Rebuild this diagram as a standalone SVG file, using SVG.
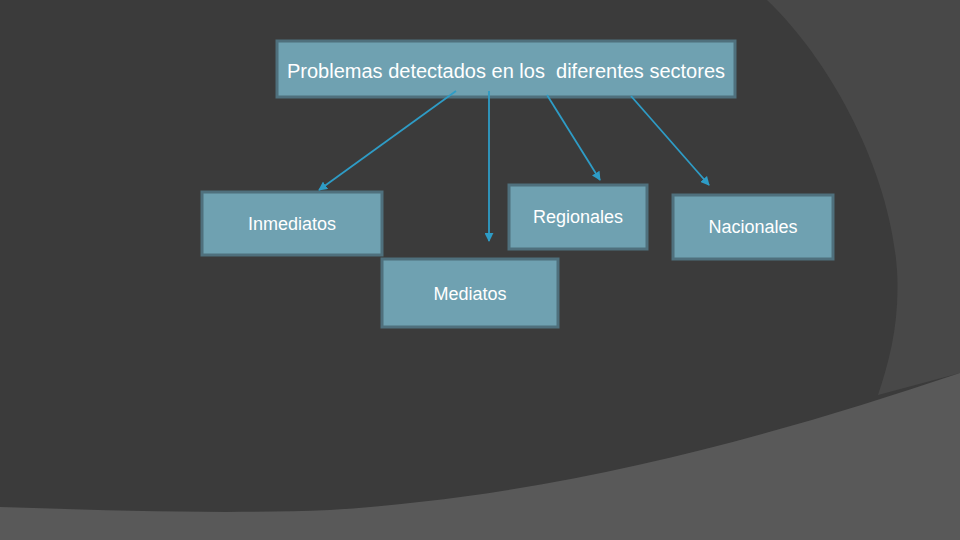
<svg xmlns="http://www.w3.org/2000/svg" width="960" height="540" viewBox="0 0 960 540">
<defs>
<style>
.box{fill:#6fa1b1;stroke:#4f707d;stroke-width:3}
.lbl{font-family:"Liberation Sans",Arial,sans-serif;font-size:18px;fill:#ffffff;text-anchor:middle;white-space:pre}
.title{font-size:20px}
.conn{stroke:#2e9cc6;stroke-width:1.8;fill:none;marker-end:url(#ah)}
</style>
<marker id="ah" viewBox="0 0 10 10" refX="9" refY="5" markerWidth="5" markerHeight="5" orient="auto" markerUnits="strokeWidth">
<path d="M0,0 L10,5 L0,10 z" fill="#2e9cc6"/>
</marker>
</defs>
<rect x="0" y="0" width="960" height="540" fill="#484848"/>
<path d="M0,0 L767,0 C830,60 890,170 897,270 C900,320 890,360 878,395 L960,373 L960,540 L0,540 Z" fill="#3b3b3b"/>
<path d="M0,507 C120,511 230,514 330,510 C560,495 760,440 960,373 L960,540 L0,540 Z" fill="#595959"/>
<g id="n-top">
<rect class="box" x="277" y="41" width="458" height="56"/>
<text class="lbl title" x="506" y="78" xml:space="preserve">Problemas detectados en los  diferentes sectores</text>
</g>
<g id="n-inmediatos">
<rect class="box" x="202" y="192" width="180" height="63"/>
<text class="lbl" x="292" y="230">Inmediatos</text>
</g>
<g id="n-mediatos">
<rect class="box" x="382" y="259" width="176" height="68"/>
<text class="lbl" x="470" y="300">Mediatos</text>
</g>
<g id="n-regionales">
<rect class="box" x="509" y="185" width="138" height="64"/>
<text class="lbl" x="578" y="223">Regionales</text>
</g>
<g id="n-nacionales">
<rect class="box" x="673" y="195" width="160" height="64"/>
<text class="lbl" x="753" y="233">Nacionales</text>
</g>
<g id="connectors">
<line class="conn" x1="456" y1="91" x2="319" y2="190"/>
<line class="conn" x1="489" y1="91" x2="489" y2="241"/>
<line class="conn" x1="547" y1="95" x2="600" y2="180"/>
<line class="conn" x1="631" y1="96" x2="709" y2="185"/>
</g>
</svg>
